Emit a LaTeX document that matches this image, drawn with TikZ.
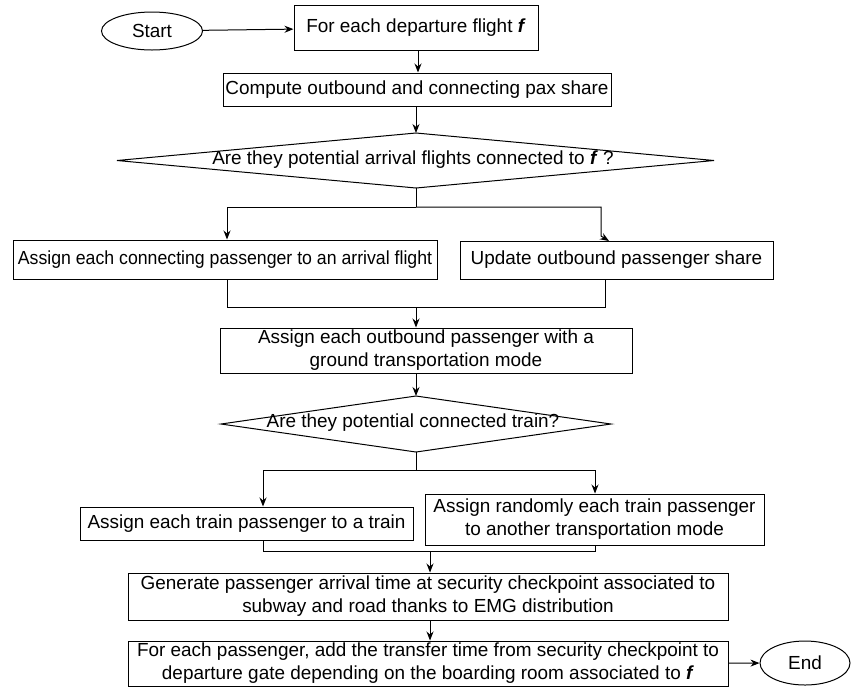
\documentclass[tikz,border=0pt]{standalone}
\usepackage{fontspec}
\setmainfont{Liberation Sans}
\usetikzlibrary{arrows.meta,shapes.geometric}
\newcommand{\ff}{\textbf{\textit{f}}}
\begin{document}
\begin{tikzpicture}[x=0.75pt,y=-0.75pt,
  font=\fontsize{14.2}{17.25}\selectfont,
  every path/.style={line width=0.75pt},
  box/.style={draw, rectangle, inner sep=0pt, align=center},
  term/.style={draw, ellipse, inner sep=0pt},
  txt/.style={inner sep=0pt, align=center},
  arr/.style={-{Stealth[length=6.75pt,width=5.25pt]}}]
\useasboundingbox (0,0) rectangle (852,687);
% terminals
\node[term, minimum width=75.75pt, minimum height=28.5pt] (start) at (152,31) {Start};
\node[term, minimum width=67.5pt, minimum height=33pt] (end) at (805,663) {End};
% boxes
\node[box, minimum width=183pt, minimum height=33.75pt] (b1) at (416,27.5) {For each departure flight \ff};
\node[box, minimum width=291pt, minimum height=24.75pt] (b2) at (417,89.5) {Compute outbound and connecting pax share};
\node[box, minimum width=318pt, minimum height=29.25pt] (b3) at (225,259.5) {\scalebox{0.935}[1]{Assign each connecting passenger to an arrival flight}};
\node[box, minimum width=234.75pt, minimum height=28.5pt] (b4) at (616.5,260) {Update outbound passenger share};
\node[box, minimum width=309pt, minimum height=33.75pt] (b5) at (426,350.5) {Assign each outbound passenger with a\\ground transportation mode};
\node[box, minimum width=249.75pt, minimum height=24.75pt] (b6) at (246.5,523.5) {Assign each train passenger to a train};
\node[box, minimum width=254.25pt, minimum height=38.25pt] (b7) at (594.5,519.5) {Assign randomly each train passenger\\to another transportation mode};
\node[box, minimum width=450pt, minimum height=35.25pt] (b8) at (428,596.5) {Generate passenger arrival time at security checkpoint associated to\\subway and road thanks to EMG distribution};
\node[box, minimum width=450pt, minimum height=33.75pt] (b9) at (428,663.5) {For each passenger, add the transfer time from security checkpoint to\\departure gate depending on the boarding room associated to \ff};
% decisions
\coordinate (d1t) at (416,133);
\coordinate (d1b) at (416,188);
\coordinate (d1l) at (117,160.5);
\coordinate (d1r) at (714,160.5);
\draw (d1t) -- (d1r) -- (d1b) -- (d1l) -- cycle;
\node[txt] (d1) at (413,160) {Are they potential arrival flights connected to \ff\ ?};
\coordinate (d2t) at (416,396);
\coordinate (d2b) at (416,452);
\coordinate (d2l) at (221,424);
\coordinate (d2r) at (611,424);
\draw (d2t) -- (d2r) -- (d2b) -- (d2l) -- cycle;
\node[txt] (d2) at (413,423) {Are they potential connected train?};
% junction coordinates
\coordinate (j1) at (416,207);
\coordinate (j1l) at (227,207);
\coordinate (j1r) at (601,207);
\coordinate (j1k) at (601,236);
\coordinate (j1e) at (609,241);
\coordinate (m1) at (416,307);
\coordinate (j2) at (416,470);
\coordinate (m2) at (430,551);
% connectors
\draw[arr] (start) -- (b1);
\draw[arr] (b1.south -| 418,0) -- (b2.north -| 418,0);
\draw[arr] (b2.south -| d1t) -- (d1t);
\draw (d1b) -- (j1);
\draw[arr] (j1) -- (j1l) -- (b3.north -| j1l);
\draw[arr] (j1) -- (j1r) -- (j1k) -- (j1e);
\draw (b3.south -| j1l) -- (j1l |- m1) -- (605,307) -- (b4.south -| 605,0);
\draw[arr] (m1) -- (b5.north -| m1);
\draw[arr] (b5.south -| d2t) -- (d2t);
\draw (d2b) -- (j2);
\draw[arr] (j2) -- (263,470) -- (b6.north -| 263,0);
\draw[arr] (j2) -- (595,470) -- (b7.north -| 595,0);
\draw (b6.south -| 263,0) -- (263,551) -- (595,551) -- (b7.south -| 595,0);
\draw[arr] (m2) -- (b8.north -| m2);
\draw[arr] (b8.south -| m2) -- (b9.north -| m2);
\draw[arr] (b9) -- (end);
\end{tikzpicture}
\end{document}
